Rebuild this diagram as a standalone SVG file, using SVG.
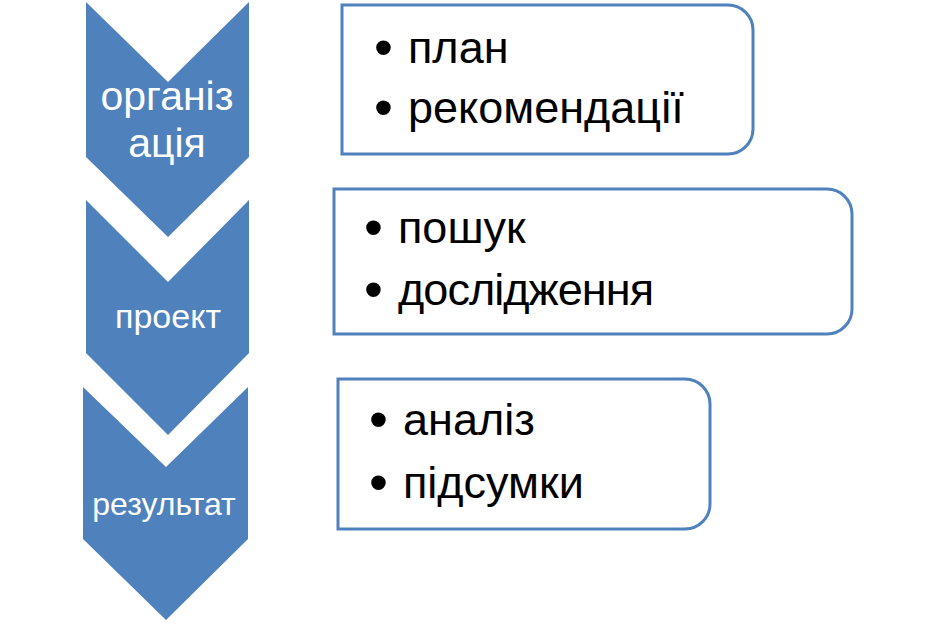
<svg xmlns="http://www.w3.org/2000/svg" width="940" height="633" viewBox="0 0 940 633">
<style>
.chev{fill:#4F81BD}
.ct{fill:#FFFFFF;font-family:"Liberation Sans",Arial,sans-serif;text-anchor:middle}
.box{fill:#FFFFFF;stroke:#4F81BD;stroke-width:3}
.bt{fill:#000000;font-family:"Liberation Sans",Arial,sans-serif;font-size:45px}
.bul{font-size:54px}
</style>
<rect width="940" height="633" fill="#FFFFFF"/>
<g id="step1">
<polygon class="chev" points="86,2 168,82 249,2 249,157 168,237 86,157"/>
<text class="ct" font-size="41" x="167" y="110">організ</text>
<text class="ct" font-size="41" x="167" y="157">ація</text>
</g>
<g id="step2">
<polygon class="chev" points="86,200 168,282 249,200 249,353 168,435 86,353"/>
<text class="ct" font-size="34" x="168" y="328">проект</text>
</g>
<g id="step3">
<polygon class="chev" points="83,387 166,467 248,387 248,539 166,620 83,539"/>
<text class="ct" font-size="32" x="164" y="515">результат</text>
</g>
<g id="box1">
<path class="box" d="M342,5 H728 A25,25 0 0 1 753,30 V129 A25,25 0 0 1 728,154 H342 Z"/>
<text class="bt" x="374" y="63"><tspan class="bul" dy="3">•</tspan><tspan x="408" dy="-3">план</tspan></text>
<text class="bt" x="374" y="123"><tspan class="bul" dy="3">•</tspan><tspan x="408" dy="-3">рекомендації</tspan></text>
</g>
<g id="box2">
<path class="box" d="M334,189 H827 A25,25 0 0 1 852,214 V309 A25,25 0 0 1 827,334 H334 Z"/>
<text class="bt" x="364" y="243"><tspan class="bul" dy="3">•</tspan><tspan x="398" dy="-3">пошук</tspan></text>
<text class="bt" x="364" y="305"><tspan class="bul" dy="3">•</tspan><tspan x="398" dy="-3" textLength="256" lengthAdjust="spacing">дослідження</tspan></text>
</g>
<g id="box3">
<path class="box" d="M338,379 H685 A25,25 0 0 1 710,404 V504 A25,25 0 0 1 685,529 H338 Z"/>
<text class="bt" x="369" y="435"><tspan class="bul" dy="3">•</tspan><tspan x="403" dy="-3">аналіз</tspan></text>
<text class="bt" x="369" y="498"><tspan class="bul" dy="3">•</tspan><tspan x="403" dy="-3">підсумки</tspan></text>
</g>
</svg>
